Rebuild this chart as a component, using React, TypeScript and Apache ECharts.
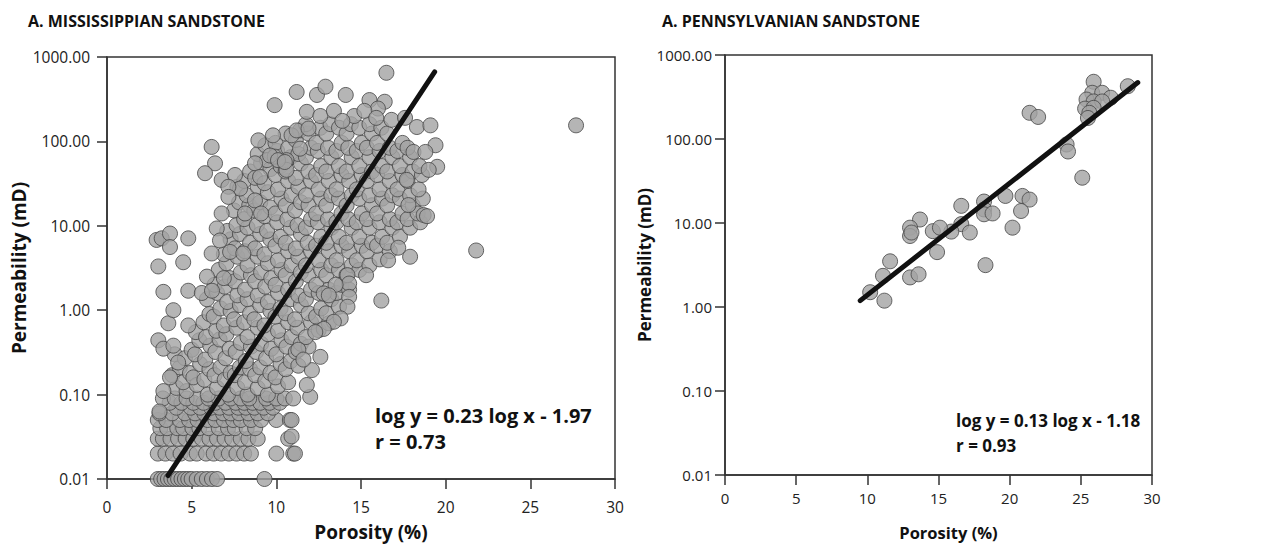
import React, { useEffect, useRef } from "react";
import * as echarts from "echarts";

// ---------- Panel A: Mississippian sandstone (porosity %, permeability mD) ----------
const missLowRows: [number, number][] = [
  [3.0,0.01],[3.2,0.01],[3.4,0.01],[3.6,0.01],[3.8,0.01],[4.0,0.01],[4.2,0.01],[4.4,0.01],[4.6,0.01],[4.8,0.01],[5.0,0.01],[5.3,0.01],[5.6,0.01],[5.9,0.01],[6.2,0.01],[6.5,0.01],[9.3,0.01],
  [3.0,0.02],[3.45,0.02],[3.9,0.02],[4.35,0.02],[4.9,0.02],[5.3,0.02],[5.85,0.02],[6.3,0.02],[6.75,0.02],[7.2,0.02],[7.65,0.02],[8.1,0.02],[8.5,0.02],[10.0,0.02],[11.0,0.02],
  [3.0,0.03],[3.3,0.03],[3.75,0.03],[4.2,0.03],[4.65,0.03],[5.1,0.03],[5.6,0.03],[6.05,0.03],[6.5,0.03],[6.95,0.03],[7.4,0.03],[7.9,0.03],[8.35,0.03],[8.9,0.03],[10.7,0.03],
  [3.15,0.04],[3.55,0.04],[4.15,0.04],[4.5,0.04],[5.05,0.04],[5.45,0.04],[6.0,0.04],[6.6,0.04],[7.15,0.04],[7.55,0.04],[8.25,0.04],[8.75,0.04],
  [3.0,0.05],[3.5,0.05],[4.3,0.05],[4.85,0.05],[5.35,0.05],[5.95,0.05],[6.4,0.05],[6.9,0.05],[7.45,0.05],[7.9,0.05],[8.5,0.05],[9.1,0.05],[10.0,0.05],[10.8,0.05],
  [3.1,0.06],[3.85,0.06],[4.6,0.06],[5.2,0.06],[5.75,0.06],[6.3,0.06],[6.85,0.06],[7.3,0.06],[7.8,0.06],[8.35,0.06],[8.9,0.06],[9.5,0.06],
  [4.1,0.07],[4.95,0.07],[5.5,0.07],[6.15,0.07],[6.65,0.07],[7.2,0.07],[7.75,0.07],[8.2,0.07],[8.7,0.07],[9.25,0.07],[9.8,0.07],
  [3.7,0.08],[4.4,0.08],[5.1,0.08],[5.7,0.08],[6.4,0.08],[7.0,0.08],[7.6,0.08],[8.1,0.08],[8.6,0.08],[9.05,0.08],[9.6,0.08],[10.2,0.08],
  [3.3,0.09],[4.0,0.09],[4.7,0.09],[5.3,0.09],[6.0,0.09],[6.6,0.09],[7.3,0.09],[7.9,0.09],[8.4,0.09],[9.4,0.09],[10.0,0.09],[10.5,0.09],[11.0,0.09],[12.0,0.094],
];

const missCore: [number, number][] = [
  [4.1,0.12],[3.85,0.17],[4.3,0.21],[4.0,0.3],
  [4.7,0.11],[4.5,0.14],[4.9,0.18],[4.6,0.27],[5.0,0.34],
  [5.3,0.13],[5.1,0.16],[5.5,0.23],[5.2,0.3],[5.45,0.44],[5.25,0.55],
  [5.95,0.1],[5.75,0.15],[6.05,0.2],[5.8,0.26],[6.1,0.38],[5.85,0.48],[5.7,0.72],[6.05,0.9],[5.9,1.35],
  [6.5,0.12],[6.35,0.17],[6.7,0.21],[6.4,0.32],[6.65,0.45],[6.45,0.57],[6.3,0.84],[6.7,1.05],[6.5,1.6],[6.35,2.0],[6.6,3.0],
  [7.15,0.1],[6.95,0.15],[7.3,0.18],[7.0,0.27],[7.25,0.35],[7.05,0.52],[6.9,0.66],[7.3,0.98],[7.1,1.25],[6.95,1.9],[7.25,2.4],[7.05,3.6],[6.9,4.6],[7.3,6.9],[7.1,8.7],
  [7.7,0.12],[7.55,0.17],[7.85,0.21],[7.6,0.32],[7.9,0.41],[7.65,0.62],[7.5,0.78],[7.85,1.15],[7.7,1.5],[7.55,2.2],[7.9,2.8],[7.7,4.3],[7.55,5.4],[7.85,8.0],[7.65,10.2],[7.5,15.2],[7.8,19],[7.7,29],
  [8.3,0.1],[8.15,0.14],[8.45,0.2],[8.2,0.25],[8.5,0.37],[8.3,0.48],[8.1,0.72],[8.45,0.92],[8.3,1.35],[8.15,1.75],[8.5,2.6],[8.3,3.4],[8.15,5.0],[8.45,6.3],[8.3,9.5],[8.1,12],[8.4,17.5],[8.25,23],[8.1,34],[8.45,44],
  [8.9,0.12],[8.75,0.17],[9.05,0.21],[8.8,0.32],[9.1,0.4],[8.9,0.62],[8.7,0.78],[9.05,1.15],[8.9,1.5],[8.75,2.2],[9.1,2.8],[8.9,4.3],[8.75,5.4],[9.05,8.0],[8.85,10.2],[8.7,15.2],[9.05,19],[8.9,29],[8.75,37],[9.1,55],[8.9,71],
  [9.5,0.1],[9.35,0.145],[9.65,0.18],[9.4,0.27],[9.7,0.35],[9.5,0.52],[9.3,0.66],[9.65,0.98],[9.5,1.25],[9.35,1.9],[9.7,2.4],[9.5,3.6],[9.3,4.6],[9.65,6.9],[9.45,8.7],[9.3,13],[9.65,16.5],[9.5,25],[9.3,32],[9.65,47],[9.45,60],[9.35,90],
  [10.1,0.125],[9.95,0.16],[10.25,0.23],[10.0,0.3],[10.3,0.44],[10.1,0.57],[9.95,0.84],[10.25,1.05],[10.1,1.6],[9.95,2.0],[10.3,3.0],[10.1,3.9],[9.95,5.8],[10.25,7.4],[10.05,11],[9.95,14],[10.3,21],[10.1,27],[9.95,40],[10.25,51],[10.05,77],[9.95,96],
  [10.7,0.14],[10.55,0.2],[10.85,0.25],[10.6,0.37],[10.9,0.48],[10.7,0.72],[10.55,0.92],[10.85,1.35],[10.7,1.75],[10.55,2.6],[10.9,3.4],[10.7,5.0],[10.55,6.3],[10.85,9.5],[10.65,12],[10.55,17.5],[10.9,23],[10.7,34],[10.55,44],[10.85,65],[10.7,84],[10.55,124],
  [11.3,0.22],[11.15,0.32],[11.45,0.4],[11.25,0.62],[11.1,0.78],[11.45,1.15],[11.3,1.5],[11.15,2.2],[11.45,2.8],[11.3,4.3],[11.15,5.4],[11.45,8.0],[11.25,10.2],[11.1,15.2],[11.45,19],[11.3,29],[11.15,37],[11.45,55],[11.3,71],[11.15,104],[11.4,135],
  [11.9,0.37],[11.75,0.48],[12.05,0.72],[11.9,0.92],[11.75,1.35],[12.05,1.75],[11.9,2.6],[11.75,3.4],[12.05,5.0],[11.85,6.3],[11.75,9.5],[12.05,12],[11.9,17.5],[11.75,23],[12.05,34],[11.9,44],[11.75,65],[12.05,84],[11.9,124],[11.75,160],
  [12.5,0.58],[12.35,0.84],[12.65,1.05],[12.5,1.6],[12.35,2.0],[12.65,3.0],[12.5,3.9],[12.35,5.8],[12.65,7.4],[12.45,11],[12.35,14],[12.65,21],[12.5,27],[12.35,40],[12.65,51],[12.45,77],[12.35,96],[12.6,145],
  [13.1,0.7],[12.95,0.92],[13.25,1.35],[13.1,1.75],[12.95,2.6],[13.25,3.4],[13.1,5.0],[12.95,6.3],[13.25,9.5],[13.05,12],[12.95,17.5],[13.25,23],[13.1,34],[12.95,44],[13.25,65],[13.05,84],[12.95,124],[13.2,160],
  [13.7,1.1],[13.55,1.6],[13.85,2.0],[13.7,3.0],[13.55,3.9],[13.85,5.8],[13.7,7.4],[13.55,11],[13.85,14],[13.7,21],[13.55,27],[13.85,40],[13.7,51],[13.55,77],[13.85,96],[13.7,145],
  [14.3,1.75],[14.15,2.6],[14.45,3.4],[14.3,5.0],[14.15,6.3],[14.45,9.5],[14.25,12],[14.15,17.5],[14.45,23],[14.3,34],[14.15,44],[14.45,65],[14.25,84],[14.15,124],[14.4,160],
  [14.9,3.0],[14.75,3.9],[15.05,5.8],[14.9,7.4],[14.75,11],[15.05,14],[14.9,21],[14.75,27],[15.05,40],[14.9,51],[14.75,77],[15.05,96],[14.9,145],
  [15.5,3.4],[15.35,5.0],[15.65,6.3],[15.5,9.5],[15.35,12],[15.65,17.5],[15.5,23],[15.35,34],[15.65,44],[15.5,65],[15.35,84],[15.65,124],[15.5,160],
  [16.1,4.0],[15.95,5.8],[16.25,7.4],[16.1,11],[15.95,14],[16.25,21],[16.1,27],[15.95,40],[16.25,51],[16.1,77],[15.95,96],[16.2,145],
  [16.7,5.0],[16.55,6.3],[16.85,9.5],[16.7,12],[16.55,17.5],[16.85,23],[16.7,34],[16.55,44],[16.85,65],[16.7,84],[16.55,124],
  [17.3,7.4],[17.15,11],[17.45,14],[17.3,21],[17.15,27],[17.45,40],[17.3,51],[17.15,77],[17.45,96],
  [17.9,9.5],[17.75,12],[18.05,17.5],[17.9,23],[17.75,34],[18.05,44],[17.9,65],[17.75,84],
  [18.5,11],[18.35,14],[18.65,21],[18.4,27],[18.6,40],[18.45,51],
];

const missOuter: [number, number][] = [
  [2.93,6.8],[3.23,7.1],[3.72,8.1],[3.72,5.6],[4.8,7.1],[3.03,3.3],[4.5,3.7],[3.33,1.65],[4.8,1.7],[5.6,1.6],[6.2,1.7],[5.9,2.5],[6.9,2.4],
  [3.62,0.7],[4.8,0.66],[3.92,1.0],[3.03,0.44],[3.33,0.35],[3.92,0.38],[3.72,0.16],[3.33,0.11],[4.2,0.24],[3.1,0.063],
  [6.18,86],[6.38,55],[5.79,42],[6.77,35],[7.56,40],[7.86,27.6],[7.17,29],[7.17,22],[6.77,14],[8.15,14],[6.48,9.3],[6.67,6.7],[6.18,4.7],[7.27,4.9],[8.05,4.7],[8.74,20],[9.1,14],
  [9.9,269],[11.2,385],[12.4,355],[12.9,445],[14.1,355],[15.5,309],[16.4,295],[16.0,245],[11.8,224],[16.5,650],
  [8.94,103],[9.8,118],[10.9,118],[11.2,135],[11.9,142],[8.74,55],[9.04,38],[9.9,66],[10.6,60],[10.6,46],[11.4,82],[9.63,68],[10.1,60],[10.5,57],
  [12.6,200],[13.4,230],[14.6,200],[15.2,230],[16.8,180],[13.9,175],[15.9,190],[17.6,190],[18.3,148],
  [19.1,155],[19.4,90],[19.5,50],[19.0,46],[18.1,75],[17.7,35],[17.8,17.6],[18.7,13.4],[18.9,13],[17.9,4.3],[18.8,75],
  [16.2,1.3],[21.8,5.1],[27.7,155],[16.6,3.9],[17.2,5.5],[15.3,2.6],
  [14.2,2.6],[14.3,2.07],[14.3,1.44],[14.2,1.1],[13.8,0.8],[13.4,0.73],[12.8,0.6],[12.3,0.55],[13.5,2.0],[12.8,1.58],[13.1,1.5],
  [12.6,0.28],[12.1,0.195],[11.8,0.13],[11.3,0.34],[11.6,0.26],[10.9,0.05],[10.9,0.032],[11.1,0.02],
];

const missFitLine: [number, number][] = [[3.6, 0.011], [19.35, 665]];

// ---------- Panel B: Pennsylvanian sandstone ----------
const pennPoints: [number, number][] = [
  [25.9,480],[28.3,425],[25.8,355],[26.5,355],[27.1,310],[25.4,295],[25.9,280],[26.5,280],[25.3,230],[25.9,235],[25.6,205],[25.5,178],
  [21.4,205],[22.0,183],[24.0,86],[24.1,71],[25.1,34.6],[19.7,21],[20.9,21],[21.4,19],[20.8,13.9],[20.2,8.8],
  [18.2,18],[18.2,14.5],[18.2,12.7],[18.8,13],[16.6,16],[16.6,9.7],[17.2,7.7],[15.9,7.9],[14.6,8.0],[15.1,8.8],[14.9,4.5],
  [13.7,11],[13.0,8.8],[13.0,7.0],[13.1,7.7],[18.3,3.15],[11.6,3.5],[11.1,2.35],[13.0,2.25],[13.6,2.45],[10.2,1.5],[11.2,1.19],
];

const pennFitLine: [number, number][] = [[9.5, 1.19], [29.0, 470]];

const xTicks = [0, 5, 10, 15, 20, 25, 30];
const titles = ["A. MISSISSIPPIAN SANDSTONE", "A. PENNSYLVANIAN SANDSTONE"];
const equations = ["log y = 0.23 log x - 1.97", "log y = 0.13 log x - 1.18"];
const rValues = ["r = 0.73", "r = 0.93"];

const FONT = "Open Sans";

export default function App() {
  const ref = useRef<HTMLDivElement>(null);
  useEffect(() => {
    if (!ref.current) return;
    const chart = echarts.init(ref.current, null, { renderer: "svg" });
    const axisLine = { show: true, lineStyle: { color: "#333", width: 1.5 } };
    const mkX = (gi: number, fs: number, margin: number, nameSize: number, gap: number) => ({
      type: "value", gridIndex: gi, min: xTicks[0], max: xTicks[xTicks.length - 1], interval: 5,
      axisLine, axisTick: { show: true, length: 10, lineStyle: { color: "#333", width: 1.5 } },
      splitLine: { show: false },
      axisLabel: { fontFamily: FONT, fontSize: fs, color: "#222", margin },
      name: "Porosity (%)", nameLocation: "middle", nameGap: gap,
      nameTextStyle: { fontFamily: FONT, fontWeight: "bold", fontSize: nameSize, color: "#111", padding: [0, 0, 0, 20] },
    });
    const mkY = (gi: number, fs: number, margin: number, nameSize: number, gap: number) => ({
      type: "log", logBase: 10, gridIndex: gi, min: 0.01, max: 1000,
      axisLine, axisTick: { show: true, length: 10, lineStyle: { color: "#333", width: 1.5 } },
      splitLine: { show: false }, minorTick: { show: false },
      axisLabel: { fontFamily: FONT, fontSize: fs, color: "#222", margin, formatter: (v: number) => v.toFixed(2) },
      name: "Permeability (mD)", nameLocation: "middle", nameGap: gap,
      nameTextStyle: { fontFamily: FONT, fontWeight: "bold", fontSize: nameSize, color: "#111" },
    });
    const pointStyle = { color: "#a3a3a3", borderColor: "#444", borderWidth: 1 };
    const lineStyle = { color: "#111", width: 5, cap: "round" };
    const titleStyle = { fontFamily: FONT, fontWeight: "bold", fontSize: 16, color: "#111" };
    chart.setOption({
      animation: false,
      backgroundColor: "#fff",
      title: [
        { text: titles[0], left: 28, top: 13, padding: 0, textStyle: titleStyle },
        { text: titles[1], left: 662, top: 13, padding: 0, textStyle: titleStyle },
      ],
      grid: [
        { left: 107, top: 57, width: 508, height: 422, show: true, borderColor: "#333", borderWidth: 1.5, backgroundColor: "transparent" },
        { left: 725, top: 55, width: 427, height: 422, show: true, borderColor: "#333", borderWidth: 1.5, backgroundColor: "transparent" },
      ],
      xAxis: [mkX(0, 15.5, 20, 19, 43), mkX(1, 15, 15, 16.5, 49)],
      yAxis: [mkY(0, 15.5, 17, 19, 74), mkY(1, 15, 13, 17, 60)],
      series: [
        { type: "scatter", xAxisIndex: 0, yAxisIndex: 0, data: [...missLowRows, ...missCore, ...missOuter], symbol: "circle", symbolSize: 15, itemStyle: pointStyle, clip: false, z: 2 },
        { type: "line", xAxisIndex: 0, yAxisIndex: 0, data: missFitLine, symbol: "none", lineStyle, z: 3 },
        { type: "scatter", xAxisIndex: 1, yAxisIndex: 1, data: pennPoints, symbol: "circle", symbolSize: 15, itemStyle: pointStyle, clip: false, z: 2 },
        { type: "line", xAxisIndex: 1, yAxisIndex: 1, data: pennFitLine, symbol: "none", lineStyle, z: 3 },
      ],
      graphic: [
        { type: "text", left: 375, top: 405, style: { text: equations[0], font: `bold 20px ${FONT}`, fill: "#111" } },
        { type: "text", left: 375, top: 431, style: { text: rValues[0], font: `bold 20px ${FONT}`, fill: "#111" } },
        { type: "text", left: 956, top: 412, style: { text: equations[1], font: `bold 17px ${FONT}`, fill: "#111" } },
        { type: "text", left: 956, top: 437, style: { text: rValues[1], font: `bold 17px ${FONT}`, fill: "#111" } },
      ],
    });
    return () => chart.dispose();
  }, []);
  return (
    <div
      ref={ref}
      style={{ position: "fixed", left: 0, top: 0, width: 1262, height: 546, background: "#fff" }}
    />
  );
}
